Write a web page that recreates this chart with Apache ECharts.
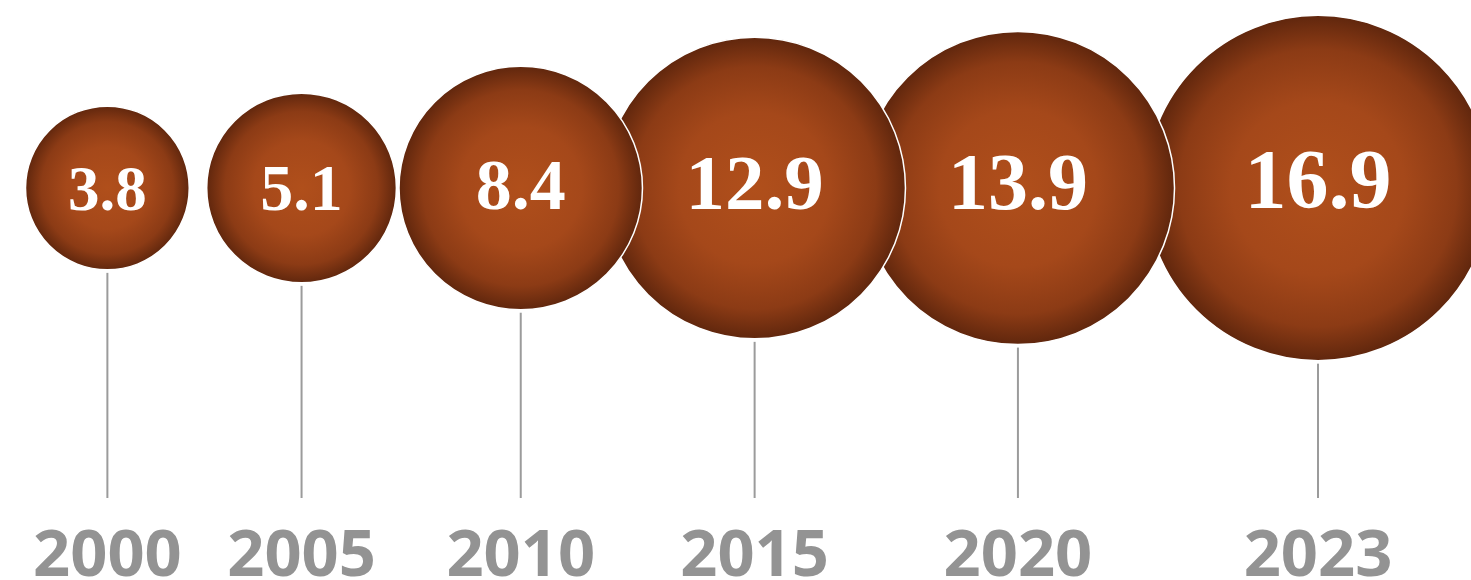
<!DOCTYPE html>
<html><head><meta charset="utf-8">
<script src="https://cdn.jsdelivr.net/npm/echarts@6/dist/echarts.min.js"></script>
<style>html,body{margin:0;padding:0;background:#fff}#c{width:1471px;height:580px}</style>
</head><body><div id="c"></div>
<script>
// Data
const years = ['2000', '2005', '2010', '2015', '2020', '2023'];
const values = [3.8, 5.1, 8.4, 12.9, 13.9, 16.9];
// position of each year along the (hidden) timeline axis, in axis units 0-100
const track = [7.3, 20.5, 35.4, 51.3, 69.2, 89.6];

const chart = echarts.init(document.getElementById('c'), null, {renderer: 'canvas'});

const bubbleFill = {
  type: 'radial', x: 0.5, y: 0.5, r: 0.5,
  colorStops: [
    {offset: 0, color: '#b04f1b'},
    {offset: 0.5, color: '#a5481a'},
    {offset: 0.8, color: '#8c3b15'},
    {offset: 1, color: '#5f260d'}
  ]
};

function renderItem(params, api) {
  const i = params.dataIndex;
  const v = api.value(1);
  const c = api.coord([api.value(0), 1]);
  const base = api.coord([api.value(0), 0]);
  const r = 42 * Math.sqrt(v);
  const fs = 44 + 0.23 * r;
  return {
    type: 'group',
    children: [
      {
        type: 'line',
        shape: {x1: c[0], y1: c[1] + r + 3, x2: c[0], y2: base[1]},
        style: {stroke: '#9b9b9b', lineWidth: 2},
        z2: 1
      },
      {
        type: 'circle',
        shape: {cx: c[0], cy: c[1], r: r},
        style: {fill: bubbleFill, stroke: '#ffffff', lineWidth: 1.5},
        z2: 100 - i * 10
      },
      {
        type: 'text',
        style: {
          text: values[i].toFixed(1),
          x: c[0], y: c[1] + 27 - 0.338 * fs,
          align: 'center', verticalAlign: 'middle',
          fill: '#ffffff',
          font: 'bold ' + fs.toFixed(0) + 'px "Liberation Serif", serif'
        },
        z2: 101 - i * 10
      },
      {
        type: 'text',
        style: {
          text: years[i],
          x: c[0], y: base[1] + 59,
          align: 'center', verticalAlign: 'middle',
          fill: '#939393',
          font: 'bold 65px "Open Sans", sans-serif'
        },
        z2: 1
      }
    ]
  };
}

chart.setOption({
  animation: false,
  backgroundColor: '#ffffff',
  grid: {left: 0, right: 0, top: 188, bottom: 82},
  xAxis: {type: 'value', min: 0, max: 100, show: false},
  yAxis: {type: 'value', min: 0, max: 1, show: false},
  series: [{
    type: 'custom',
    renderItem: renderItem,
    clip: false,
    data: years.map((y, i) => [track[i], values[i]])
  }]
});
</script>
</body></html>
